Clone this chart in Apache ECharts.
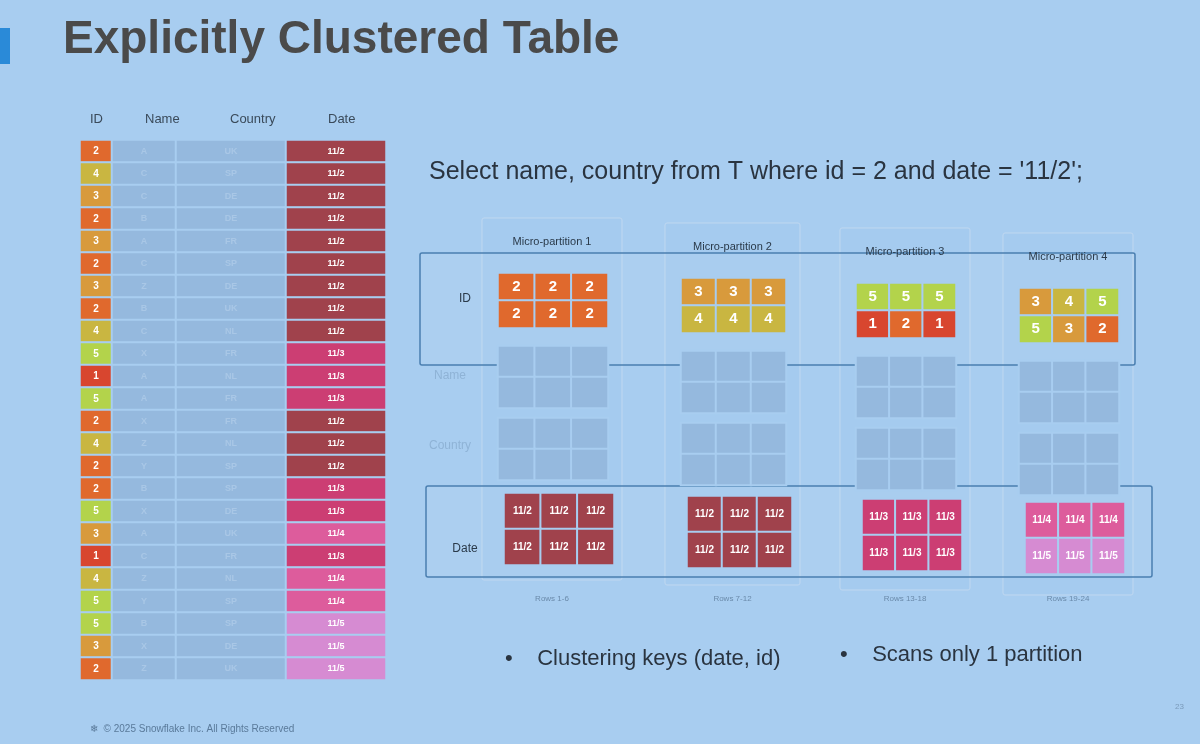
<!DOCTYPE html><html><head><meta charset="utf-8">
<script src="https://cdn.jsdelivr.net/npm/echarts@6/dist/echarts.min.js"></script>
<style>html,body{margin:0;padding:0;background:#a8cdf0}#c{width:1200px;height:744px}</style></head><body><div id="c"></div>
<script>
const ids = [2,4,3,2,3,2,3,2,4,5,1,5,2,4,2,2,5,3,1,4,5,5,3,2];
const names = ['A','C','C','B','A','C','Z','B','C','X','A','A','X','Z','Y','B','X','A','C','Z','Y','B','X','Z'];
const countries = ['UK','SP','DE','DE','FR','SP','DE','UK','NL','FR','NL','FR','FR','NL','SP','SP','DE','UK','FR','NL','SP','SP','DE','UK'];
const dates = ['11/2','11/2','11/2','11/2','11/2','11/2','11/2','11/2','11/2','11/3','11/3','11/3','11/2','11/2','11/2','11/3','11/3','11/4','11/3','11/4','11/4','11/5','11/5','11/5'];
const partIds = [[2,2,2,2,2,2],[3,3,3,4,4,4],[5,5,5,1,2,1],[3,4,5,5,3,2]];
const partDates = [['11/2','11/2','11/2','11/2','11/2','11/2'],['11/2','11/2','11/2','11/2','11/2','11/2'],['11/3','11/3','11/3','11/3','11/3','11/3'],['11/4','11/4','11/4','11/5','11/5','11/5']];
const partLabels = ['Micro-partition 1','Micro-partition 2','Micro-partition 3','Micro-partition 4'];
const rowLabels = ['Rows 1-6','Rows 7-12','Rows 13-18','Rows 19-24'];

const idColor = {1:'#d8462f',2:'#e0692d',3:'#d89a3c',4:'#c9b641',5:'#b3d34b'};
const dateColor = {'11/2':'#a0424c','11/3':'#cc3e73','11/4':'#dd5c9c','11/5':'#d68bd2'};
const gray = '#95b9de', bg = '#a8cdf0';

const grids=[], xAxes=[], yAxes=[], series=[], graphic=[];
function table(left, top, w, h, ncol, nrow, vals, colorFn, fontSize, textColor){
  const i = grids.length;
  grids.push({left, top, width:w, height:h});
  xAxes.push({type:'category', gridIndex:i, data:[...Array(ncol).keys()], show:false});
  yAxes.push({type:'category', gridIndex:i, data:[...Array(nrow).keys()], inverse:true, show:false});
  series.push({type:'heatmap', xAxisIndex:i, yAxisIndex:i,
    data: vals.map((v,k)=>({value:[k%ncol, Math.floor(k/ncol), 1], name:String(v), itemStyle:{color:colorFn(v)}})),
    itemStyle:{borderColor:bg, borderWidth:2},
    label:{show:true, formatter:p=>p.name, color:textColor, fontSize, fontWeight:'bold', fontFamily:'Liberation Sans'},
    emphasis:{disabled:true}});
}
const T=140, H=540;
table(80,T,32,H,1,24,ids,v=>idColor[v],10,'#fff');
table(112,T,64,H,1,24,names,()=>gray,9,'#a9c7e6');
table(176,T,110,H,1,24,countries,()=>gray,9,'#a9c7e6');
table(286,T,100,H,1,24,dates,v=>dateColor[v],9,'#fff');
[['ID',90],['Name',145],['Country',230],['Date',328]].forEach(([t,x])=>graphic.push({type:'text',left:x,top:113,style:{text:t,fill:'#3a4a5a',font:'13px Liberation Sans',textAlign:'center'}}));

graphic.push({type:'rect',shape:{x:420,y:253,width:715,height:112,r:2},style:{fill:'rgba(255,255,255,0.05)',stroke:'#4a7fb0',lineWidth:1.5},z:-1});
graphic.push({type:'rect',shape:{x:426,y:486,width:726,height:91,r:2},style:{fill:'rgba(255,255,255,0.05)',stroke:'#4a7fb0',lineWidth:1.5},z:-1});
[['ID',465,293,'#2a3a4a'],['Name',450,370,'#8fb3d6'],['Country',450,440,'#8fb3d6'],['Date',465,543,'#2a3a4a']].forEach(([t,x,y,c])=>graphic.push({type:'text',x,y,style:{text:t,fill:c,font:'12px Liberation Sans',textAlign:'center'}}));

const px=[482,665,840,1003], pw=[140,135,130,130];
partIds.forEach((p,j)=>{
  const x=px[j], w=pw[j], y0=218+j*5;
  graphic.push({type:'rect',shape:{x,y:y0,width:w,height:362,r:2},style:{fill:'rgba(160,200,240,0.3)',stroke:'#c0d8f0',lineWidth:1},z:-2});
  graphic.push({type:'text',x:x+w/2,y:y0+18,style:{text:partLabels[j],fill:'#2a3a4a',font:'11px Liberation Sans',textAlign:'center'}});
  graphic.push({type:'text',x:x+w/2,y:595,style:{text:rowLabels[j],fill:'#6a8aaa',font:'8px Liberation Sans',textAlign:'center'}});
  table(x+16,y0+55,w-30,55,3,2,p,v=>idColor[v],15,'#fff');
  table(x+16,y0+128,w-30,62,3,2,Array(6).fill(''),()=>gray,9,'#fff');
  table(x+16,y0+200,w-30,62,3,2,Array(6).fill(''),()=>gray,9,'#fff');
  table(x+22,493+j*3,w-30,72,3,2,partDates[j],v=>dateColor[v],10,'#fff');
});

const chart = echarts.init(document.getElementById('c'));
chart.setOption({
  backgroundColor: bg, animation:false,
  title:[{text:'Explicitly Clustered Table',left:58,top:12,textStyle:{fontSize:46,fontWeight:'bold',color:'#4a4a4a',fontFamily:'Liberation Sans'}},
         {text:"Select name, country from T where id = 2 and date = '11/2';",left:424,top:155,textStyle:{fontSize:25,fontWeight:'normal',color:'#2a3440',fontFamily:'Liberation Sans'}}],
  grid:grids, xAxis:xAxes, yAxis:yAxes, series,
  graphic: graphic.concat([
    {type:'rect',shape:{x:0,y:28,width:10,height:36},style:{fill:'#2a8ad8'}},
    {type:'text',x:505,y:648,style:{text:'•    Clustering keys (date, id)',fill:'#2a3440',font:'22px Liberation Sans'}},
    {type:'text',x:840,y:644,style:{text:'•    Scans only 1 partition',fill:'#2a3440',font:'22px Liberation Sans'}},
    {type:'text',x:90,y:724,style:{text:'❄  © 2025 Snowflake Inc. All Rights Reserved',fill:'#5a7a9a',font:'10px Liberation Sans'}},
    {type:'text',x:1175,y:703,style:{text:'23',fill:'#7a9aba',font:'8px Liberation Sans'}}
  ])
});
</script></body></html>
